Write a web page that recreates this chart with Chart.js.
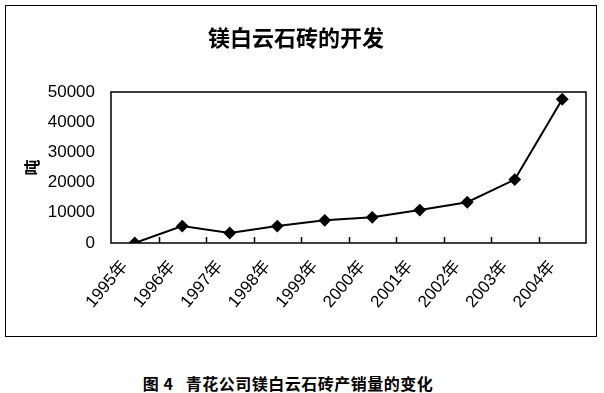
<!DOCTYPE html>
<html>
<head>
<meta charset="utf-8">
<script src="https://cdn.jsdelivr.net/npm/chart.js@4/dist/chart.umd.min.js"></script>
<style>
    body { margin: 0; background: #fff; width: 604px; height: 393px; position: relative; overflow: hidden; }
    #frame { position: absolute; left: 5px; top: 5px; width: 590px; height: 330px; border: 1px solid #000; }
    #caption { position: absolute; left: 0; top: 371px; width: 576px; text-align: center;
        font: bold 16px "Noto Sans CJK SC", sans-serif; letter-spacing: 0.5px; color: #000; }
</style>
</head>
<body>
<div id="frame"><canvas id="myChart" width="590" height="330"></canvas></div>
<div id="caption">图 4&nbsp;&nbsp;&nbsp;青花公司镁白云石砖产销量的变化</div>
<script>
    var years = ['1995年', '1996年', '1997年', '1998年', '1999年', '2000年', '2001年', '2002年', '2003年', '2004年'];
    var output = [0, 5600, 3300, 5600, 7500, 8500, 10900, 13500, 21000, 47600];
    var yTicks = [0, 10000, 20000, 30000, 40000, 50000];

    // full black box round the plot area, plus small inward ticks between the years
    var plotBox = {
        id: 'plotBox',
        afterDraw: function(chart) {
            var a = chart.chartArea,
                ctx = chart.ctx,
                xs = chart.scales.x;
            ctx.save();
            ctx.strokeStyle = '#000';
            ctx.lineWidth = 1.5;
            ctx.strokeRect(a.left, a.top, a.right - a.left, a.bottom - a.top);
            ctx.beginPath();
            for (var i = 1; i < years.length; i++) {
                var x = Math.round((xs.getPixelForTick(i - 1) + xs.getPixelForTick(i)) / 2) + 0.5;
                ctx.moveTo(x, a.bottom);
                ctx.lineTo(x, a.bottom - 6);
            }
            ctx.stroke();
            ctx.restore();
        }
    };

    var ctx = document.getElementById('myChart').getContext('2d');
    var myChart = new Chart(ctx, {
        type: 'line',
        data: {
            labels: years,
            datasets: [{
                label: '产销量',
                data: output,
                borderColor: '#000',
                backgroundColor: '#000',
                borderWidth: 2,
                pointStyle: 'rectRot',
                pointRadius: 5,
                tension: 0
            }]
        },
        options: {
            responsive: false,
            animation: false,
            layout: { padding: { left: 0, right: 10, top: 0, bottom: 0 } },
            plugins: {
                legend: { display: false },
                tooltip: { enabled: false },
                title: {
                    display: true,
                    text: '镁白云石砖的开发',
                    color: '#000',
                    font: { family: '"Noto Sans CJK SC"', size: 22, weight: 'bold', lineHeight: 1.2 },
                    padding: { top: 18, bottom: 41.6 }
                }
            },
            scales: {
                x: {
                    offset: true,
                    border: { display: false },
                    grid: { display: false, drawTicks: false },
                    ticks: {
                        color: '#000',
                        minRotation: 50,
                        maxRotation: 50,
                        autoSkip: false,
                        padding: 14,
                        labelOffset: -10,
                        font: { family: '"Liberation Sans", "Noto Sans CJK SC"', size: 17 }
                    },
                    afterFit: function(scale) { scale.height = 93; }
                },
                y: {
                    min: 0,
                    max: 50000,
                    border: { display: false },
                    grid: { display: false, drawTicks: false },
                    afterBuildTicks: function(scale) {
                        scale.ticks = yTicks.map(function(v) { return { value: v }; });
                    },
                    ticks: {
                        color: '#000',
                        padding: 16,
                        font: { family: '"Liberation Sans"', size: 17 },
                        callback: function(value) { return String(value); }
                    },
                    title: {
                        display: true,
                        text: '吨',
                        color: '#000',
                        font: { family: '"Noto Sans CJK SC"', size: 16, weight: 'bold' },
                        padding: { top: 16, bottom: 0 }
                    },
                    afterFit: function(scale) { scale.width = 105; }
                }
            }
        },
        plugins: [plotBox]
    });
</script>
</body>
</html>
